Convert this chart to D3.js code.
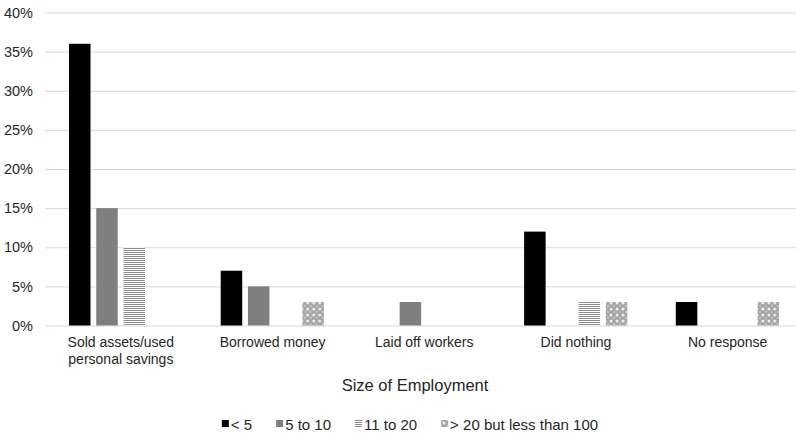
<!DOCTYPE html>
<html>
<head>
<meta charset="utf-8">
<script src="https://cdn.jsdelivr.net/npm/d3@7"></script>
<style>
  html, body { margin: 0; padding: 0; background: #fff; }
  svg { display: block; font-family: "Liberation Sans", Arial, sans-serif; }
</style>
</head>
<body>
<svg id="chart" width="796" height="433"></svg>
<script>
// Coping responses by size of employment (share of firms)
const categories = [
  ["Sold assets/used", "personal savings"],
  ["Borrowed money"],
  ["Laid off workers"],
  ["Did nothing"],
  ["No response"]
];
const seriesNames = ["< 5", "5 to 10", "11 to 20", "> 20 but less than 100"];
const lessThan5   = [0.36, 0.07, 0.00, 0.12, 0.03];
const from5to10   = [0.15, 0.05, 0.03, 0.00, 0.00];
const from11to20  = [0.10, 0.00, 0.00, 0.03, 0.00];
const over20      = [0.00, 0.03, 0.00, 0.03, 0.03];
const yTicks = [0, 0.05, 0.10, 0.15, 0.20, 0.25, 0.30, 0.35, 0.40];
const xTitle = "Size of Employment";

const seriesValues = [lessThan5, from5to10, from11to20, over20];
const fills = ["#000000", "#7f7f7f", "url(#hlines)", "url(#dots)"];

const svg = d3.select("#chart");
const textColor = "#262626";

// fill patterns
const defs = svg.append("defs");
const hl = defs.append("pattern").attr("id", "hlines")
  .attr("patternUnits", "userSpaceOnUse").attr("width", 4).attr("height", 2);
hl.append("rect").attr("width", 4).attr("height", 2).attr("fill", "#ffffff");
hl.append("rect").attr("width", 4).attr("height", 1).attr("fill", "#8c8c8c");

const dp = defs.append("pattern").attr("id", "dots")
  .attr("patternUnits", "userSpaceOnUse").attr("width", 6).attr("height", 6);
dp.append("rect").attr("width", 6).attr("height", 6).attr("fill", "#a4a4a4");
dp.append("circle").attr("cx", 3).attr("cy", 3).attr("r", 1.5).attr("fill", "#f0f0f0");
dp.append("circle").attr("cx", 0).attr("cy", 0).attr("r", 0.9).attr("fill", "#d2d2d2");
dp.append("circle").attr("cx", 6).attr("cy", 0).attr("r", 0.9).attr("fill", "#d2d2d2");
dp.append("circle").attr("cx", 0).attr("cy", 6).attr("r", 0.9).attr("fill", "#d2d2d2");
dp.append("circle").attr("cx", 6).attr("cy", 6).attr("r", 0.9).attr("fill", "#d2d2d2");

// scales
const y = d3.scaleLinear().domain([0, 0.4]).range([325.5, 12.5]);
const x0 = d3.scaleBand().domain(d3.range(categories.length)).range([45, 803.5]).padding(0);
const x1 = d3.scaleBand().domain(d3.range(seriesNames.length))
  .range([24, x0.bandwidth() - 24.5]).paddingInner(0.21).paddingOuter(0);

// gridlines + y tick labels
const yAxis = d3.axisLeft(y).tickValues(yTicks)
  .tickSize(-(796 - 45)).tickPadding(12)
  .tickFormat(d => Math.round(d * 100) + "%");
const gy = svg.append("g").attr("transform", "translate(45,0)").call(yAxis);
gy.select(".domain").remove();
gy.selectAll(".tick line").attr("stroke", "#d9d9d9").attr("stroke-width", 1);
gy.selectAll(".tick text").attr("fill", textColor).attr("font-size", "14.5px")
  .attr("font-family", "Liberation Sans, Arial, sans-serif");

// bars
const groups = svg.append("g").selectAll("g").data(categories).join("g")
  .attr("transform", (d, i) => `translate(${x0(i)},0)`);
groups.selectAll("rect")
  .data((d, i) => seriesValues.map((vals, s) => ({ s, v: vals[i] })).filter(e => e.v > 0))
  .join("rect")
  .attr("x", d => x1(d.s))
  .attr("width", x1.bandwidth())
  .attr("y", d => y(d.v))
  .attr("height", d => y(0) - y(d.v))
  .attr("fill", d => fills[d.s]);

// category labels
const xAxis = d3.axisBottom(x0).tickSize(0).tickFormat(() => "");
const gx = svg.append("g").attr("transform", `translate(0,${y(0)})`).call(xAxis);
gx.select(".domain").remove();
gx.selectAll(".tick").each(function(d) {
  const t = d3.select(this).append("text")
    .attr("text-anchor", "middle").attr("fill", textColor).attr("font-size", "14px")
    .attr("font-family", "Liberation Sans, Arial, sans-serif");
  categories[d].forEach((line, k) => {
    t.append("tspan").attr("x", 0).attr("y", 21.5 + k * 16.5).text(line);
  });
});

// axis title
svg.append("text").attr("x", 415).attr("y", 391)
  .attr("text-anchor", "middle").attr("fill", textColor)
  .attr("font-size", "16.5px").text(xTitle);

// legend
const legend = svg.append("g");
let lx = 0;
seriesNames.forEach((name, s) => {
  const item = legend.append("g").attr("transform", `translate(${lx},0)`);
  item.append("rect").attr("x", 0).attr("y", 420).attr("width", 7).attr("height", 7)
    .attr("fill", fills[s]);
  const t = item.append("text").attr("x", 9).attr("y", 430)
    .attr("fill", textColor).attr("font-size", "15px").text(name);
  lx += 9 + t.node().getComputedTextLength() + 24;
});
const legendWidth = lx - 24;
legend.attr("transform", `translate(${410 - legendWidth / 2},0)`);
</script>
</body>
</html>
